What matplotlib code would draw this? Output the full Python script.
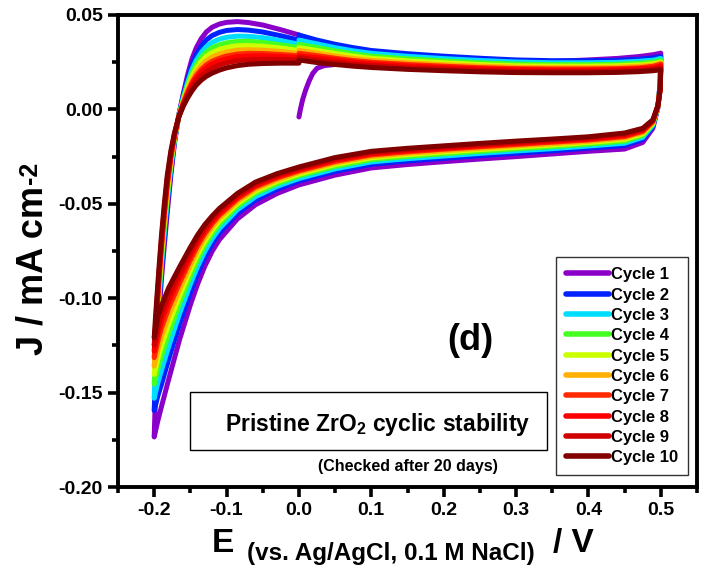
import matplotlib
matplotlib.use("Agg")
import matplotlib.pyplot as plt
from matplotlib.patches import Rectangle
from matplotlib.ticker import MultipleLocator, FormatStrFormatter

plt.rcParams["font.family"] = ["Liberation Sans", "DejaVu Sans"]
plt.rcParams["font.weight"] = "bold"
plt.rcParams["axes.unicode_minus"] = False
plt.rcParams["mathtext.fontset"] = "custom"
plt.rcParams["mathtext.rm"] = "Liberation Sans:bold"
plt.rcParams["mathtext.it"] = "Liberation Sans:bold"
plt.rcParams["mathtext.bf"] = "Liberation Sans:bold"

LABELS = [f"Cycle {i}" for i in range(1, 11)]
COLORS = ["#8B00C8", "#0022FF", "#00DDFF", "#44FF22", "#CCFF00",
          "#FFB000", "#FF2A00", "#FF0000", "#D00000", "#800000"]

# cycle 1 opens at rest potential (0.0 V) and sweeps anodically to 0.5 V
E_START = [0.000, 0.002, 0.005, 0.009, 0.014, 0.019, 0.025, 0.035, 0.050,
           0.100, 0.200, 0.300, 0.400, 0.440, 0.470, 0.490, 0.500]
J_START = [-0.0040, 0.0000, 0.0050, 0.0100, 0.0150, 0.0190, 0.0218, 0.0232, 0.0238,
           0.0240, 0.0236, 0.0245, 0.0262, 0.0270, 0.0280, 0.0290, 0.0298]

# anodic sweep 0.0 -> 0.5 V for cycles 2..10
E_FWD = [0.000, 0.025, 0.050, 0.075, 0.100, 0.150, 0.200, 0.250,
         0.300, 0.350, 0.400, 0.440, 0.470, 0.490, 0.500]
J_FWD = [
    [0.0394, 0.0367, 0.0345, 0.0327, 0.0312, 0.0295, 0.0282, 0.0271, 0.0262, 0.0258, 0.0258, 0.0260, 0.0266, 0.0273, 0.0280],
    [0.0367, 0.0347, 0.0327, 0.0310, 0.0297, 0.0281, 0.0269, 0.0259, 0.0251, 0.0247, 0.0247, 0.0249, 0.0255, 0.0261, 0.0270],
    [0.0345, 0.0328, 0.0310, 0.0295, 0.0282, 0.0268, 0.0257, 0.0247, 0.0240, 0.0237, 0.0237, 0.0239, 0.0244, 0.0251, 0.0260],
    [0.0327, 0.0312, 0.0296, 0.0282, 0.0271, 0.0257, 0.0247, 0.0238, 0.0231, 0.0229, 0.0229, 0.0231, 0.0236, 0.0242, 0.0250],
    [0.0312, 0.0298, 0.0283, 0.0270, 0.0260, 0.0247, 0.0237, 0.0229, 0.0223, 0.0221, 0.0221, 0.0223, 0.0228, 0.0234, 0.0245],
    [0.0297, 0.0285, 0.0271, 0.0259, 0.0250, 0.0238, 0.0229, 0.0221, 0.0216, 0.0214, 0.0214, 0.0216, 0.0220, 0.0229, 0.0240],
    [0.0284, 0.0274, 0.0262, 0.0251, 0.0242, 0.0230, 0.0222, 0.0215, 0.0210, 0.0208, 0.0208, 0.0210, 0.0215, 0.0220, 0.0230],
    [0.0275, 0.0261, 0.0250, 0.0240, 0.0232, 0.0221, 0.0214, 0.0207, 0.0202, 0.0201, 0.0201, 0.0203, 0.0207, 0.0213, 0.0220],
    [0.0262, 0.0248, 0.0238, 0.0229, 0.0222, 0.0212, 0.0205, 0.0199, 0.0195, 0.0194, 0.0194, 0.0196, 0.0200, 0.0205, 0.0210],
]

# cathodic sweep 0.5 -> -0.2 V, cycles 1..10
E_CATH = [0.500, 0.499, 0.496, 0.489, 0.475, 0.450, 0.400, 0.350, 0.300, 0.250,
          0.200, 0.150, 0.100, 0.050, 0.000, -0.030, -0.060, -0.085, -0.110, -0.120,
          -0.130, -0.140, -0.150, -0.165, -0.180, -0.190, -0.195, -0.200]
J_CATH = [
    [0.0298, 0.0140, 0.0010, -0.0100, -0.0175, -0.0210, -0.0222, -0.0236, -0.0250, -0.0263, -0.0277, -0.0292, -0.0310, -0.0348, -0.0400, -0.0445, -0.0505, -0.0580, -0.0690, -0.0752, -0.0830, -0.0925, -0.1035, -0.1220, -0.1430, -0.1575, -0.1650, -0.1735],
    [0.0280, 0.0131, 0.0012, -0.0090, -0.0159, -0.0191, -0.0205, -0.0219, -0.0232, -0.0245, -0.0259, -0.0273, -0.0291, -0.0328, -0.0379, -0.0422, -0.0479, -0.0550, -0.0654, -0.0711, -0.0782, -0.0868, -0.0968, -0.1135, -0.1323, -0.1457, -0.1518, -0.1595],
    [0.0270, 0.0126, 0.0014, -0.0084, -0.0148, -0.0179, -0.0194, -0.0208, -0.0220, -0.0233, -0.0247, -0.0261, -0.0278, -0.0315, -0.0366, -0.0407, -0.0462, -0.0531, -0.0631, -0.0685, -0.0751, -0.0831, -0.0925, -0.1081, -0.1255, -0.1382, -0.1448, -0.1530],
    [0.0260, 0.0120, 0.0015, -0.0078, -0.0138, -0.0168, -0.0184, -0.0197, -0.0209, -0.0222, -0.0235, -0.0249, -0.0266, -0.0302, -0.0352, -0.0393, -0.0445, -0.0513, -0.0608, -0.0659, -0.0720, -0.0795, -0.0883, -0.1028, -0.1188, -0.1308, -0.1375, -0.1455],
    [0.0250, 0.0116, 0.0016, -0.0073, -0.0130, -0.0159, -0.0176, -0.0189, -0.0201, -0.0213, -0.0227, -0.0240, -0.0257, -0.0292, -0.0343, -0.0382, -0.0433, -0.0499, -0.0591, -0.0640, -0.0698, -0.0769, -0.0852, -0.0989, -0.1139, -0.1254, -0.1322, -0.1405],
    [0.0245, 0.0112, 0.0017, -0.0069, -0.0123, -0.0151, -0.0169, -0.0182, -0.0193, -0.0206, -0.0219, -0.0233, -0.0249, -0.0284, -0.0334, -0.0373, -0.0422, -0.0487, -0.0576, -0.0623, -0.0678, -0.0746, -0.0825, -0.0954, -0.1095, -0.1206, -0.1275, -0.1360],
    [0.0240, 0.0109, 0.0018, -0.0065, -0.0117, -0.0144, -0.0162, -0.0174, -0.0186, -0.0198, -0.0211, -0.0225, -0.0241, -0.0276, -0.0326, -0.0363, -0.0411, -0.0475, -0.0561, -0.0606, -0.0658, -0.0722, -0.0797, -0.0920, -0.1052, -0.1158, -0.1228, -0.1315],
    [0.0230, 0.0106, 0.0019, -0.0062, -0.0111, -0.0138, -0.0157, -0.0169, -0.0180, -0.0192, -0.0206, -0.0219, -0.0235, -0.0269, -0.0319, -0.0356, -0.0403, -0.0465, -0.0550, -0.0593, -0.0643, -0.0704, -0.0776, -0.0893, -0.1018, -0.1120, -0.1192, -0.1280],
    [0.0220, 0.0103, 0.0019, -0.0059, -0.0106, -0.0132, -0.0151, -0.0163, -0.0175, -0.0187, -0.0200, -0.0213, -0.0229, -0.0262, -0.0313, -0.0348, -0.0395, -0.0456, -0.0538, -0.0580, -0.0628, -0.0686, -0.0754, -0.0866, -0.0984, -0.1083, -0.1158, -0.1250],
    [0.0210, 0.0100, 0.0020, -0.0055, -0.0100, -0.0125, -0.0145, -0.0157, -0.0168, -0.0180, -0.0193, -0.0206, -0.0222, -0.0255, -0.0305, -0.0340, -0.0385, -0.0445, -0.0525, -0.0565, -0.0610, -0.0665, -0.0730, -0.0835, -0.0945, -0.1040, -0.1100, -0.1210],
]

# anodic return -0.2 -> 0.0 V, cycles 1..10
E_AN = [-0.200, -0.198, -0.196, -0.193, -0.190, -0.186, -0.182, -0.177, -0.172, -0.166,
        -0.160, -0.154, -0.148, -0.142, -0.135, -0.128, -0.120, -0.110, -0.100, -0.085,
        -0.070, -0.050, -0.025, 0.000]
J_AN = [
    [-0.1735, -0.1480, -0.1250, -0.1060, -0.0900, -0.0720, -0.0550, -0.0350, -0.0180, -0.0030, 0.0080, 0.0180, 0.0265, 0.0325, 0.0375, 0.0410, 0.0435, 0.0452, 0.0461, 0.0465, 0.0460, 0.0447, 0.0422, 0.0394],
    [-0.1595, -0.1410, -0.1201, -0.1017, -0.0859, -0.0680, -0.0514, -0.0327, -0.0170, -0.0032, 0.0068, 0.0158, 0.0235, 0.0289, 0.0335, 0.0368, 0.0391, 0.0408, 0.0418, 0.0423, 0.0420, 0.0410, 0.0390, 0.0367],
    [-0.1530, -0.1351, -0.1161, -0.0981, -0.0824, -0.0647, -0.0484, -0.0307, -0.0162, -0.0033, 0.0059, 0.0140, 0.0210, 0.0260, 0.0302, 0.0332, 0.0355, 0.0372, 0.0382, 0.0388, 0.0387, 0.0380, 0.0364, 0.0345],
    [-0.1455, -0.1305, -0.1128, -0.0952, -0.0797, -0.0621, -0.0460, -0.0292, -0.0155, -0.0035, 0.0051, 0.0126, 0.0189, 0.0236, 0.0276, 0.0304, 0.0326, 0.0342, 0.0353, 0.0360, 0.0361, 0.0355, 0.0342, 0.0327],
    [-0.1405, -0.1266, -0.1102, -0.0928, -0.0774, -0.0599, -0.0440, -0.0279, -0.0150, -0.0036, 0.0044, 0.0114, 0.0173, 0.0217, 0.0254, 0.0281, 0.0301, 0.0318, 0.0328, 0.0337, 0.0338, 0.0335, 0.0325, 0.0312],
    [-0.1360, -0.1227, -0.1075, -0.0904, -0.0751, -0.0577, -0.0420, -0.0266, -0.0144, -0.0037, 0.0038, 0.0102, 0.0156, 0.0197, 0.0232, 0.0257, 0.0277, 0.0293, 0.0304, 0.0314, 0.0316, 0.0314, 0.0307, 0.0297],
    [-0.1315, -0.1191, -0.1050, -0.0882, -0.0730, -0.0557, -0.0402, -0.0254, -0.0139, -0.0037, 0.0032, 0.0091, 0.0141, 0.0179, 0.0212, 0.0236, 0.0255, 0.0271, 0.0283, 0.0293, 0.0297, 0.0296, 0.0291, 0.0284],
    [-0.1280, -0.1168, -0.1034, -0.0868, -0.0716, -0.0544, -0.0390, -0.0246, -0.0136, -0.0038, 0.0028, 0.0084, 0.0131, 0.0167, 0.0199, 0.0222, 0.0241, 0.0257, 0.0268, 0.0279, 0.0283, 0.0284, 0.0280, 0.0275],
    [-0.1250, -0.1133, -0.1010, -0.0846, -0.0695, -0.0524, -0.0372, -0.0234, -0.0131, -0.0039, 0.0022, 0.0073, 0.0116, 0.0150, 0.0179, 0.0201, 0.0219, 0.0235, 0.0247, 0.0258, 0.0263, 0.0265, 0.0265, 0.0262],
    [-0.1210, -0.1090, -0.0980, -0.0820, -0.0670, -0.0500, -0.0350, -0.0220, -0.0125, -0.0040, 0.0015, 0.0060, 0.0097, 0.0128, 0.0155, 0.0175, 0.0192, 0.0208, 0.0220, 0.0232, 0.0239, 0.0243, 0.0245, 0.0245],
]


def main():
    fig = plt.figure(figsize=(7.1, 5.71), dpi=100)
    ax = fig.add_axes([118 / 710, 84 / 571, 579 / 710, 472 / 571])

    for k in range(10):
        if k == 0:
            e, j = E_START, J_START
        else:
            e, j = E_FWD, J_FWD[k - 1]
        e = e + E_CATH[1:] + E_AN[1:]
        j = j + J_CATH[k][1:] + J_AN[k][1:]
        ax.plot(e, j, color=COLORS[k], lw=3.6, label=LABELS[k],
                solid_joinstyle="round", solid_capstyle="round")

    ax.set_xlim(-0.25, 0.55)
    ax.set_ylim(-0.20, 0.05)
    ax.xaxis.set_major_locator(MultipleLocator(0.1))
    ax.xaxis.set_minor_locator(MultipleLocator(0.05))
    ax.yaxis.set_major_locator(MultipleLocator(0.05))
    ax.yaxis.set_minor_locator(MultipleLocator(0.025))
    ax.xaxis.set_major_formatter(FormatStrFormatter("%.1f"))
    ax.yaxis.set_major_formatter(FormatStrFormatter("%.2f"))
    ax.tick_params(which="both", direction="out", width=2.6, top=False, right=False,
                   labelsize=14)
    ax.tick_params(which="major", length=7, pad=4)
    ax.tick_params(which="minor", length=4)
    for s in ax.spines.values():
        s.set_linewidth(2.8)

    leg = ax.legend(loc="lower right", bbox_to_anchor=(0.984, 0.025), borderaxespad=0,
                    fontsize=12, handlelength=2.6, handletextpad=0.1, labelspacing=0.32,
                    fancybox=False, framealpha=1, borderpad=0.6)
    leg.get_frame().set_edgecolor("#333333")
    leg.get_frame().set_linewidth(1.0)
    for line in leg.get_lines():
        line.set_linewidth(4)

    ax.text(0.608, 0.311, "(d)", transform=ax.transAxes, fontsize=26,
            ha="center", va="center")

    ax.add_patch(Rectangle((0.124, 0.078), 0.617, 0.123, transform=ax.transAxes,
                           fill=False, edgecolor="black", lw=1.0))
    ax.text(0.449, 0.133, r"Pristine ZrO$_2$ cyclic stability", transform=ax.transAxes,
            fontsize=16.5, ha="center", va="center")
    ax.text(0.50, 0.044, "(Checked after 20 days)", transform=ax.transAxes,
            fontsize=11.5, ha="center", va="center")

    # y label: main part anchored at its lower end, exponent placed right after it
    ylab = fig.text(33 / 710, 1 - 355 / 571, "J / mA cm", rotation=90,
                    fontsize=26, ha="center", va="bottom")
    fig.canvas.draw()
    bb = ylab.get_window_extent()
    fig.text((bb.x0 + 3) / 710, (bb.y1 + 2) / 571, "-2", rotation=90,
             fontsize=18, ha="left", va="bottom")

    fig.text(212 / 710, 1 - 552 / 571, "E", fontsize=24, ha="left", va="baseline")
    fig.text(247 / 710, 1 - 560 / 571, "(vs. Ag/AgCl, 0.1 M NaCl)", fontsize=17.5,
             ha="left", va="baseline")
    fig.text(553 / 710, 1 - 552 / 571, "/ V", fontsize=24, ha="left", va="baseline")

    fig.savefig("out.png", dpi=100)


if __name__ == "__main__":
    main()
